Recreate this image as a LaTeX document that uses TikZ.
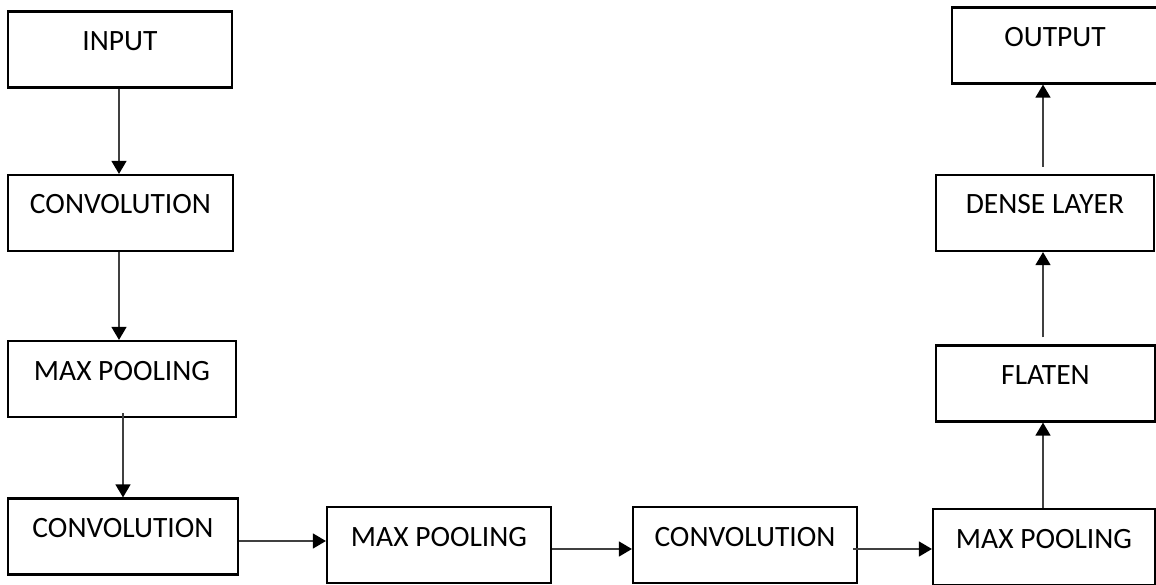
\documentclass[tikz,border=0pt]{standalone}
\usepackage{fontspec}
\setmainfont{Carlito}
\usetikzlibrary{arrows.meta}
\begin{document}
\begin{tikzpicture}[x=1pt,y=-1pt,
  box/.style={draw=black,line width=2.2pt,fill=white,rectangle,inner xsep=0pt,inner ysep=0pt,
    text height=39pt,text depth=37pt,minimum height=76pt,
    font=\fontsize{29.5}{35}\selectfont},
  conn/.style={draw=black!75,line width=1.4pt,
    -{Triangle[width=15pt,length=13pt,fill=black,color=black]}}]
\useasboundingbox (0,0) rectangle (1156,585);
\clip (0,0) rectangle (1156,585);
\node[box,minimum width=224pt] (in)  at (120,49.5)  {INPUT};
\node[box,minimum width=225pt] (c1)  at (120.5,213) {CONVOLUTION};
\node[box,minimum width=228pt] (m1)  at (122,379)   {MAX POOLING};
\node[box,minimum width=230pt] (c2)  at (123,536.5) {CONVOLUTION};
\node[box,minimum width=224pt] (m2)  at (439,545)   {MAX POOLING};
\node[box,minimum width=224pt] (c3)  at (745,545)   {CONVOLUTION};
\node[box,minimum width=222pt] (m3)  at (1044,547)  {MAX POOLING};
\node[box,minimum width=219pt] (fl)  at (1045.5,383.5) {FLATEN};
\node[box,minimum width=218pt] (de)  at (1045,213)  {DENSE LAYER};
\node[box,minimum width=206pt] (out) at (1055,45.5) {OUTPUT};
\draw[conn] (in.south -| 119,0) -- (c1.north -| 119,0);
\draw[conn] (c1.south -| 119,0) -- (m1.north -| 119,0);
\draw[conn] ([yshift=5pt]m1.south -| 123,0) -- (c2.north -| 123,0);
\draw[conn] (c2.east |- 0,541) -- (m2.west |- 0,541);
\draw[conn] (m2.east |- 0,549) -- (c3.west |- 0,549);
\draw[conn] ([xshift=-5pt]c3.east |- 0,549) -- (m3.west |- 0,549);
\draw[conn] (m3.north -| 1043,0) -- (fl.south -| 1043,0);
\draw[conn] ([yshift=7pt]fl.north -| 1043,0) -- (de.south -| 1043,0);
\draw[conn] ([yshift=7pt]de.north -| 1043,0) -- (out.south -| 1043,0);
\end{tikzpicture}
\end{document}
